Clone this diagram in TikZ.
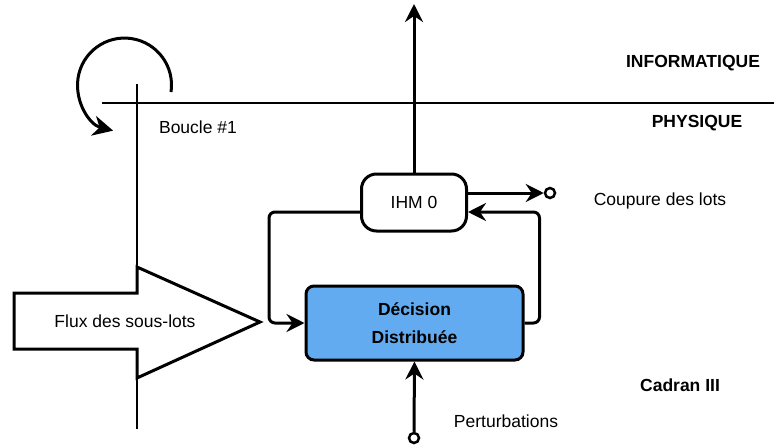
\documentclass[tikz,border=0pt]{standalone}
\usepackage{fontspec}
\setmainfont{Liberation Sans}
\usetikzlibrary{arrows.meta}
\definecolor{decblue}{RGB}{99,171,240}
\tikzset{
  arrowline/.style={line width=3pt, rounded corners=6pt, -{Stealth[length=18pt,width=18pt,inset=6pt]}},
  endpoint/.style={circle, draw, line width=2.5pt, fill=white, inner sep=0pt, minimum size=10pt},
}
\begin{document}
\begin{tikzpicture}[x=1pt, y=-1pt, font=\fontsize{17.5}{21}\selectfont]
\useasboundingbox (0,0) rectangle (774,447);
\draw[line width=2.2pt] (102,103) -- (774,103);
\draw[line width=2.2pt] (137,84) -- (137,429);
\draw[line width=3pt, -{Stealth[length=20pt,width=20pt,inset=6pt]}] (171,92) arc[start angle=8.5, end angle=-256, radius=47];
\draw[line width=3pt, fill=white] (14,293) -- (137,293) -- (137,267) -- (260,322) -- (137,378) -- (137,349) -- (14,349) -- cycle;
\node (flux) at (125,321) {Flux des sous-lots};
\node (boucle) at (198,127) {Boucle \#1};
\node (info) at (693,63) {\bfseries INFORMATIQUE};
\node (phys) at (697,123) {\bfseries PHYSIQUE};
\node (coupure) at (660,201) {Coupure des lots};
\node (cadran) at (680,385) {\bfseries Cadran III};
\node (perturb) at (506,421) {Perturbations};
\node[draw, line width=3pt, rounded corners=15pt, fill=white, minimum width=105pt, minimum height=57pt] (ihm) at (414,202.5) {IHM 0};
\node[draw, line width=3pt, rounded corners=8pt, fill=decblue, minimum width=217pt, minimum height=74pt, align=center, font=\bfseries\fontsize{17.5}{28}\selectfont] (dec) at (414.5,323) {Décision\\Distribuée};
\node[endpoint] (cut) at (550,193) {};
\node[endpoint] (pin) at (414,438) {};
\coordinate (top) at (414,4);
\draw[arrowline] (ihm.north) -- (top);
\draw[arrowline] ([yshift=9.5pt]ihm.east) -- (cut.west);
\draw[arrowline] (dec.east) -- ++(15pt,0pt) |- ([yshift=-9.5pt]ihm.east);
\draw[arrowline] ([yshift=-9.5pt]ihm.west) -- ++(-91pt,0pt) |- (dec.west);
\draw[arrowline] (pin.north) -- (dec.south);
\end{tikzpicture}
\end{document}
